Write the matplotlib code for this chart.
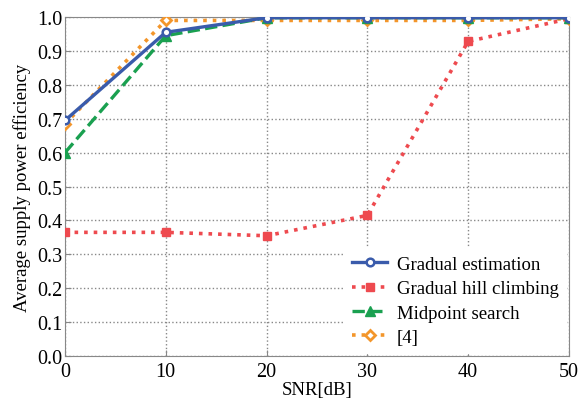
import matplotlib
matplotlib.use('Agg')
import matplotlib.pyplot as plt

# data
snr = [0, 10, 20, 30, 40, 50]
gradual_est = [0.695, 0.955, 0.998, 0.998, 0.998, 0.998]
hill_climb = [0.365, 0.365, 0.355, 0.415, 0.928, 0.995]
midpoint = [0.600, 0.945, 0.998, 0.998, 0.998, 0.998]
ref4 = [0.685, 0.990, 0.990, 0.990, 0.990, 0.995]

plt.rcParams['font.family'] = ['Liberation Serif', 'DejaVu Serif']
plt.rcParams['font.size'] = 13.5

fig = plt.figure(figsize=(5.88, 4.10), dpi=100)
ax = fig.add_axes([0.1105, 0.129, 0.857, 0.827])

ax.plot(snr, ref4, ':', color='#f3962b', lw=2.6, marker='D', ms=5.5,
        mfc='white', mec='#f3962b', mew=2, label='[4]', zorder=3)
ax.plot(snr, midpoint, '--', color='#1aa050', lw=2.4, marker='^', ms=6.5,
        mfc='#1aa050', mec='#1aa050', label='Midpoint search', zorder=4)
ax.plot(snr, hill_climb, ':', color='#ee4a4f', lw=2.6, marker='s', ms=6,
        mfc='#ee4a4f', mec='#ee4a4f', label='Gradual hill climbing', zorder=3)
ax.plot(snr, gradual_est, '-', color='#3a5bab', lw=2.4, marker='o', ms=5.5,
        mfc='white', mec='#3a5bab', mew=1.8, label='Gradual estimation', zorder=5)

ax.set_xlim(0, 50)
ax.set_ylim(0, 1.0)
ax.set_xticks([0, 10, 20, 30, 40, 50])
ax.set_yticks([i / 10 for i in range(11)])
ax.set_yticklabels(['%.1f' % (i / 10) for i in range(11)])
ax.grid(True, linestyle=':', color='#888888', lw=1)
ax.tick_params(direction='in', length=4, color='#888888', labelsize=14.5)
ax.tick_params(axis='y', pad=2)
ax.tick_params(axis='x', pad=4)
for s in ax.spines.values():
    s.set_color('#888888')
ax.set_xlabel('SNR[dB]', labelpad=0)
ax.set_ylabel('Average supply power efficiency', labelpad=4)

h, l = ax.get_legend_handles_labels()
leg = ax.legend(h[::-1], l[::-1], loc='lower right', frameon=True,
                fancybox=False, edgecolor='white', framealpha=1,
                handlelength=1.9, handletextpad=0.5, labelspacing=0.38,
                borderaxespad=0.15)

plt.savefig('out.png', dpi=100)
